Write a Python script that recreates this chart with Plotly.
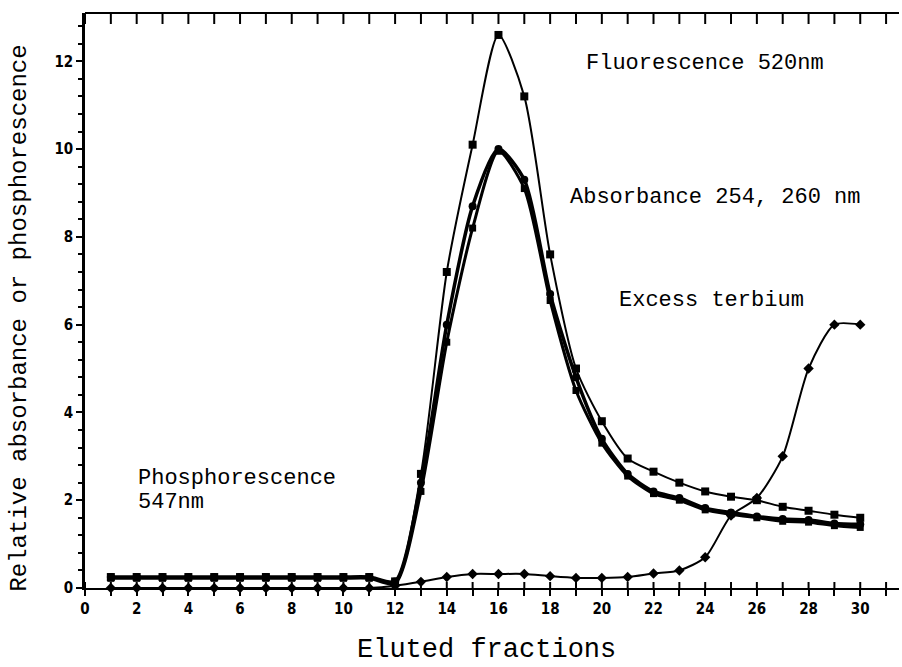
import plotly.graph_objects as go

fractions = list(range(1, 31))

fluorescence_520 = [0.25] * 11 + [0.15, 2.6, 7.2, 10.1, 12.6, 11.2, 7.6, 5.0, 3.8,
                                  2.95, 2.65, 2.4, 2.2, 2.08, 2.0, 1.85, 1.76, 1.67, 1.6]
absorbance_254 = [0.25] * 11 + [0.15, 2.4, 6.0, 8.7, 10.0, 9.3, 6.7, 4.8, 3.4,
                                2.6, 2.2, 2.05, 1.82, 1.72, 1.63, 1.57, 1.55, 1.47, 1.45]
absorbance_260 = [0.22] * 11 + [0.1, 2.2, 5.6, 8.2, 9.95, 9.1, 6.55, 4.5, 3.3,
                                2.55, 2.15, 2.0, 1.78, 1.68, 1.6, 1.52, 1.5, 1.42, 1.38]
phosphorescence_547 = [0.0] * 11 + [0.05, 0.14, 0.25, 0.32, 0.32, 0.32, 0.27, 0.23, 0.23,
                                    0.25, 0.33, 0.4, 0.7, 1.65, 2.05, 3.0, 5.0, 6.0, 6.0]

x_tick_vals = list(range(0, 31, 2))
y_tick_vals = list(range(0, 13, 2))
x_all_ticks = list(range(0, 32))

XR = [0, 31.5]
YR = [0, 13.1]

fig = go.Figure()

def add_series(y, width, symbol, size):
    fig.add_trace(go.Scatter(
        x=fractions, y=y, mode="lines+markers",
        line=dict(color="black", width=width, shape="spline", smoothing=0.7),
        marker=dict(color="black", symbol=symbol, size=size),
        cliponaxis=False, showlegend=False, hoverinfo="skip"))

add_series(phosphorescence_547, 2, "diamond", 8)
add_series(absorbance_260, 3, "square", 7)
add_series(absorbance_254, 3.5, "circle", 8)
add_series(fluorescence_520, 2, "square", 8)

tickfont = dict(family="DejaVu Sans Condensed, Liberation Sans Narrow, Arial Narrow, sans-serif",
                size=15, color="black", weight="bold")
textfont = dict(family="Courier New, Liberation Mono, monospace", size=22, color="black")

fig.update_layout(
    width=902, height=667,
    margin=dict(l=85, r=3, t=13, b=79),
    paper_bgcolor="white", plot_bgcolor="white",
    xaxis=dict(range=XR, showgrid=False, zeroline=False, showline=True,
               linecolor="black", linewidth=2, ticks="outside", ticklen=6,
               tickwidth=2, tickcolor="black", tickvals=x_tick_vals,
               minor=dict(dtick=1, tick0=0, ticks="outside", ticklen=6,
                          tickwidth=2, tickcolor="black"),
               tickfont=tickfont),
    yaxis=dict(range=YR, showgrid=False, zeroline=False, showline=True,
               linecolor="black", linewidth=2.5, ticks="outside", ticklen=6,
               tickwidth=2, tickcolor="black", tickvals=y_tick_vals,
               minor=dict(dtick=0.4, tick0=0, ticks="outside", ticklen=4,
                          tickwidth=1.5, tickcolor="black"),
               tickfont=tickfont),
)

# top frame line with inward ticks, and the inner half of the crossing bottom ticks
fig.add_shape(type="line", xref="paper", yref="paper", x0=0, x1=1, y0=1, y1=1,
              line=dict(color="black", width=2))
for xv in x_all_ticks:
    fig.add_shape(type="line", xref="x", yref="y domain", x0=xv, x1=xv,
                  y0=1, y1=1 - 11 / 575, line=dict(color="black", width=2))
    fig.add_shape(type="line", xref="x", yref="y domain", x0=xv, x1=xv,
                  y0=0, y1=6 / 575, line=dict(color="black", width=2))

annotations = [
    dict(text="Fluorescence 520nm", x=19.3, y=11.94, xanchor="left", yanchor="middle"),
    dict(text="Absorbance 254, 260 nm", x=18.7, y=8.9, xanchor="left", yanchor="middle"),
    dict(text="Excess terbium", x=20.6, y=6.56, xanchor="left", yanchor="middle"),
    dict(text="Phosphorescence", x=1.97, y=2.5, xanchor="left", yanchor="middle"),
    dict(text="547nm", x=1.97, y=1.94, xanchor="left", yanchor="middle"),
]
for a in annotations:
    fig.add_annotation(xref="x", yref="y", showarrow=False, font=textfont, **a)

fig.add_annotation(text="Eluted fractions", xref="paper", yref="paper",
                   x=0.493, y=-0.108, xanchor="center", yanchor="middle",
                   showarrow=False,
                   font=dict(family="Courier New, Liberation Mono, monospace",
                             size=27, color="black"))
fig.add_annotation(text="Relative absorbance or phosphorescence", xref="paper",
                   yref="paper", x=-0.08, y=0.47, xanchor="center", yanchor="middle",
                   textangle=-90, showarrow=False,
                   font=dict(family="Courier New, Liberation Mono, monospace",
                             size=24, color="black"))

fig.write_html("out.html")
